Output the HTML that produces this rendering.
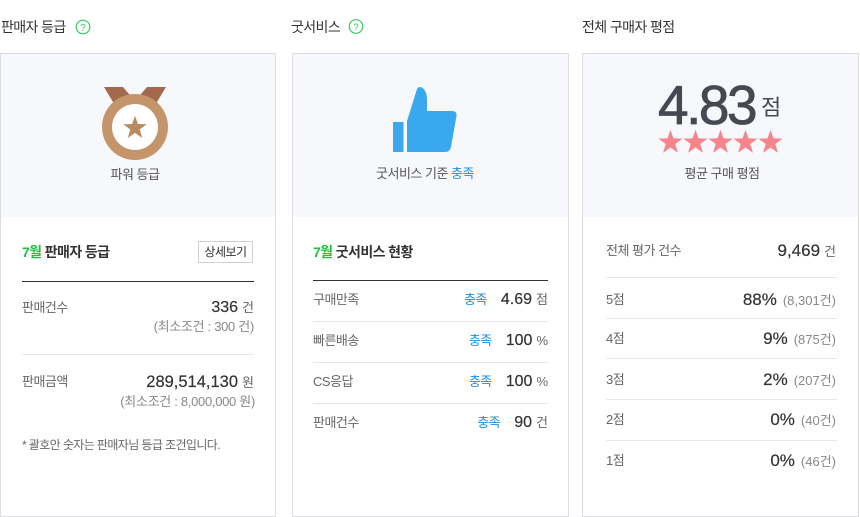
<!DOCTYPE html>
<html><head><meta charset="utf-8">
<style>
*{margin:0;padding:0;box-sizing:border-box}
html,body{width:860px;height:517px;background:#fff;overflow:hidden}
body{position:relative;font-family:"Liberation Sans","Noto Sans CJK KR",sans-serif;color:#333}
.a{position:absolute;white-space:nowrap}
.t{font-size:14px;line-height:20px;color:#333;letter-spacing:-0.6px}
.panel{position:absolute;top:53px;height:464px;border:1px solid #dcdde2;background:#fff}
.gray{position:absolute;left:0;right:0;top:0;height:163px;background:#f7f8fb}
.lbl{font-size:13px;line-height:20px;color:#666;letter-spacing:-0.5px}
.cap{font-size:13px;line-height:20px;color:#555;letter-spacing:-0.5px;text-align:center}
.r{text-align:right;font-size:16px;line-height:20px;color:#333}
.v{-webkit-text-stroke:0.2px #333}
.u{font-size:13px;color:#666;margin-left:4px}
.ok{font-size:13px;color:#1a8fe3;margin-right:14px;letter-spacing:-0.5px}
.sm{font-size:13px;line-height:20px;color:#888;text-align:right;letter-spacing:-0.3px}
.hr{position:absolute;height:1px;background:#e8e8eb}
.blk{position:absolute;height:1px;background:#333}
.g{color:#1dbf3c}
.b{font-weight:bold}
.pct{font-size:17px;-webkit-text-stroke:0.2px #333}
.pc{font-size:13px;color:#888;margin-left:6px}
</style></head><body>

<div class="panel" style="left:0;width:276px"><div class="gray"></div></div>
<div class="panel" style="left:292px;width:277px"><div class="gray"></div></div>
<div class="panel" style="left:582px;width:277px"><div class="gray"></div></div>

<svg class="a" style="left:0;top:0" width="860" height="517" viewBox="0 0 860 517">
  <defs>
    <polygon id="st" points="0,-1 0.235,-0.324 0.951,-0.309 0.380,0.124 0.588,0.809 0,0.4 -0.588,0.809 -0.380,0.124 -0.951,-0.309 -0.235,-0.324"/>
  </defs>
  <circle cx="83" cy="27" r="6.8" fill="none" stroke="#3ccb62" stroke-width="1.2"/>
  <text x="83" y="31" font-size="10" fill="#3ccb62" text-anchor="middle" font-family="Liberation Sans, sans-serif">?</text>
  <circle cx="356" cy="26.5" r="6.8" fill="none" stroke="#3ccb62" stroke-width="1.2"/>
  <text x="356" y="30.5" font-size="10" fill="#3ccb62" text-anchor="middle" font-family="Liberation Sans, sans-serif">?</text>
  <polygon points="104,87 123,87 135,101 147,87 166,87 151,112 119,112" fill="#a4694c"/>
  <circle cx="135" cy="127" r="33" fill="#c4956a"/>
  <circle cx="135" cy="127" r="23" fill="#fff"/>
  <use href="#st" transform="translate(135,128) scale(12.3)" fill="#b98a5f"/>
  <rect x="393" y="122" width="10.5" height="30" fill="#3aa8ee"/>
  <path d="M407,152 L407,121 L417,89 Q419,86 422,87.5 Q427,91 427,100 L427,111 L452,111 Q457,111 456.5,116 L451,147 Q450,152 445,152 Z" fill="#3aa8ee"/>
  <use href="#st" transform="translate(670.5,142.5) scale(12.6)" fill="#f6848b"/>
  <use href="#st" transform="translate(695.5,142.5) scale(12.6)" fill="#f6848b"/>
  <use href="#st" transform="translate(720.5,142.5) scale(12.6)" fill="#f6848b"/>
  <use href="#st" transform="translate(745.5,142.5) scale(12.6)" fill="#f6848b"/>
  <use href="#st" transform="translate(770.5,142.5) scale(12.6)" fill="#f6848b"/>
</svg>

<div class="a t" style="left:1px;top:17px">판매자 등급</div>
<div class="a t" style="left:291px;top:17px">굿서비스</div>
<div class="a t" style="left:582px;top:17px">전체 구매자 평점</div>

<div class="a cap" style="left:0;width:270px;top:165px">파워 등급</div>
<div class="a cap" style="left:325px;width:200px;top:164px">굿서비스 기준 <span style="color:#1a8fe3">충족</span></div>
<div class="a cap" style="left:622px;width:200px;top:164px">평균 구매 평점</div>

<div class="a" style="left:658px;top:78px;font-size:55px;line-height:55px;letter-spacing:-2.5px;color:#464951;-webkit-text-stroke:0.8px #464951">4.83</div>
<div class="a" style="left:761px;top:97px;font-size:22px;line-height:22px;color:#464951">점</div>

<div class="a t b" style="left:22px;top:242px"><span class="g">7월</span> 판매자 등급</div>
<div class="a" style="left:198px;top:241px;width:55px;height:22px;border:1px solid #cfcfd3;background:#fff;font-size:12px;line-height:20px;text-align:center;color:#333;letter-spacing:-0.5px">상세보기</div>
<div class="blk" style="left:22px;top:281px;width:232px"></div>
<div class="a lbl" style="left:22px;top:298px">판매건수</div>
<div class="a r" style="right:606px;top:298px"><span class="v">336</span><span class="u">건</span></div>
<div class="a sm" style="right:606px;top:317px">(최소조건 : 300 건)</div>
<div class="hr" style="left:22px;top:354px;width:232px"></div>
<div class="a lbl" style="left:22px;top:372px">판매금액</div>
<div class="a r" style="right:606px;top:372px;font-size:16.5px"><span class="v">289,514,130</span><span class="u">원</span></div>
<div class="a sm" style="right:605px;top:392px">(최소조건 : 8,000,000 원)</div>
<div class="a" style="left:22px;top:435px;font-size:12px;line-height:20px;color:#666;letter-spacing:-0.6px">* 괄호안 숫자는 판매자님 등급 조건입니다.</div>

<div class="a t b" style="left:313px;top:242px"><span class="g">7월</span> 굿서비스 현황</div>
<div class="blk" style="left:313px;top:280px;width:235px"></div>
<div class="a lbl" style="left:313px;top:290px">구매만족</div>
<div class="a r" style="right:312px;top:290px"><span class="ok">충족</span><span class="v">4.69</span><span class="u">점</span></div>
<div class="hr" style="left:313px;top:321px;width:235px"></div>
<div class="a lbl" style="left:313px;top:331px">빠른배송</div>
<div class="a r" style="right:312px;top:331px"><span class="ok">충족</span><span class="v">100</span><span class="u">%</span></div>
<div class="hr" style="left:313px;top:362px;width:235px"></div>
<div class="a lbl" style="left:313px;top:372px">CS응답</div>
<div class="a r" style="right:312px;top:372px"><span class="ok">충족</span><span class="v">100</span><span class="u">%</span></div>
<div class="hr" style="left:313px;top:403px;width:235px"></div>
<div class="a lbl" style="left:313px;top:413px">판매건수</div>
<div class="a r" style="right:312px;top:413px"><span class="ok">충족</span><span class="v">90</span><span class="u">건</span></div>

<div class="a lbl" style="left:606px;top:241px">전체 평가 건수</div>
<div class="a r" style="right:24px;top:241px;font-size:17px"><span class="v">9,469</span><span class="u">건</span></div>
<div class="hr" style="left:606px;top:277px;width:231px"></div>
<div class="a lbl" style="left:606px;top:290px">5점</div>
<div class="a r" style="right:24px;top:290px"><span class="pct">88%</span><span class="pc">(8,301건)</span></div>
<div class="hr" style="left:606px;top:318px;width:231px"></div>
<div class="a lbl" style="left:606px;top:329px">4점</div>
<div class="a r" style="right:24px;top:329px"><span class="pct">9%</span><span class="pc">(875건)</span></div>
<div class="hr" style="left:606px;top:358px;width:231px"></div>
<div class="a lbl" style="left:606px;top:370px">3점</div>
<div class="a r" style="right:24px;top:370px"><span class="pct">2%</span><span class="pc">(207건)</span></div>
<div class="hr" style="left:606px;top:399px;width:231px"></div>
<div class="a lbl" style="left:606px;top:410px">2점</div>
<div class="a r" style="right:24px;top:410px"><span class="pct">0%</span><span class="pc">(40건)</span></div>
<div class="hr" style="left:606px;top:440px;width:231px"></div>
<div class="a lbl" style="left:606px;top:451px">1점</div>
<div class="a r" style="right:24px;top:451px"><span class="pct">0%</span><span class="pc">(46건)</span></div>

</body></html>
